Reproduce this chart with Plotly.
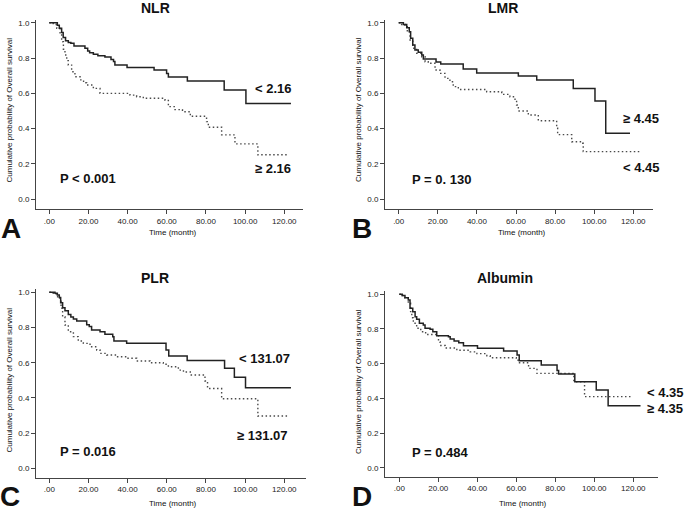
import plotly.graph_objects as go

W, H = 685, 511

# ---------------- data (time in months, cumulative survival) ----------------
nlr_low_t = [0, 4.1, 5.1, 6.3, 7.1, 8.3, 9.7, 11.0, 12.6, 18.2, 19.6, 20.6, 22.5, 24.8, 28.4, 31.5, 32.8, 33.5, 39.7, 53.5, 59.9, 60.8, 70.5, 89.3, 100.4, 123.4]
nlr_low_s = [1.0, 0.985, 0.968, 0.945, 0.916, 0.898, 0.888, 0.883, 0.868, 0.855, 0.84, 0.83, 0.821, 0.813, 0.806, 0.792, 0.78, 0.76, 0.747, 0.732, 0.713, 0.693, 0.67, 0.619, 0.543, 0.543]
nlr_high_t = [0, 2.0, 3.8, 5.5, 6.3, 7.2, 8.0, 8.9, 9.7, 11.4, 13.1, 15.7, 17.5, 19.1, 22.5, 25.9, 41.2, 44.6, 48.0, 59.1, 60.8, 64.2, 68.0, 72.0, 80.3, 81.2, 88.0, 94.8, 106.5, 122.2]
nlr_high_s = [1.0, 0.99, 0.968, 0.93, 0.892, 0.85, 0.817, 0.785, 0.76, 0.722, 0.694, 0.676, 0.66, 0.647, 0.628, 0.60, 0.59, 0.581, 0.572, 0.56, 0.525, 0.508, 0.496, 0.47, 0.44, 0.408, 0.365, 0.314, 0.252, 0.252]

lmr_high_t = [0, 2.4, 4.1, 5.4, 6.1, 7.2, 8.3, 10.0, 11.8, 12.6, 19.1, 21.5, 33.0, 39.9, 61.2, 70.6, 89.3, 100.4, 105.9, 118.3]
lmr_high_s = [1.0, 0.99, 0.972, 0.949, 0.912, 0.874, 0.845, 0.832, 0.817, 0.795, 0.777, 0.766, 0.738, 0.715, 0.698, 0.675, 0.628, 0.556, 0.374, 0.374]
lmr_low_t = [0, 1.5, 3.2, 4.4, 5.8, 7.2, 9.2, 11.8, 13.5, 15.1, 18.6, 21.1, 23.7, 26.2, 27.9, 30.5, 45.0, 52.7, 56.9, 59.5, 60.3, 61.2, 66.3, 71.4, 80.8, 81.3, 88.5, 93.6, 94.4, 123.6]
lmr_low_s = [1.0, 0.99, 0.977, 0.949, 0.902, 0.855, 0.827, 0.807, 0.779, 0.77, 0.732, 0.713, 0.685, 0.666, 0.638, 0.622, 0.609, 0.594, 0.581, 0.562, 0.534, 0.50, 0.477, 0.445, 0.402, 0.366, 0.326, 0.317, 0.27, 0.27]

plr_low_t = [0, 2.9, 4.1, 5.1, 5.8, 6.8, 8.0, 9.7, 11.0, 12.3, 14.0, 19.1, 20.4, 21.6, 25.9, 28.4, 32.4, 33.0, 39.5, 59.6, 61.0, 70.4, 89.5, 94.5, 100.2, 123.4]
plr_low_s = [1.0, 0.995, 0.985, 0.97, 0.94, 0.912, 0.895, 0.874, 0.86, 0.848, 0.837, 0.815, 0.805, 0.786, 0.776, 0.761, 0.748, 0.723, 0.71, 0.672, 0.638, 0.612, 0.568, 0.518, 0.458, 0.458]
plr_high_t = [0, 2.0, 3.8, 5.5, 6.0, 6.8, 8.0, 9.7, 12.3, 14.8, 17.4, 20.8, 24.2, 25.9, 29.3, 34.4, 39.5, 44.6, 51.4, 58.2, 60.8, 65.9, 68.5, 72.0, 79.5, 80.8, 88.0, 106.5, 122.2]
plr_high_s = [1.0, 0.99, 0.975, 0.95, 0.909, 0.861, 0.814, 0.776, 0.748, 0.723, 0.71, 0.691, 0.672, 0.653, 0.644, 0.634, 0.625, 0.61, 0.60, 0.591, 0.577, 0.558, 0.547, 0.53, 0.496, 0.453, 0.395, 0.297, 0.297]

alb_high_t = [0, 1.5, 2.9, 4.6, 5.5, 6.9, 8.1, 8.9, 10.3, 12.3, 13.2, 15.8, 17.2, 19.2, 25.2, 26.1, 28.1, 30.5, 32.9, 40.1, 53.5, 60.4, 61.5, 72.8, 80.9, 81.7, 90.0, 101.0, 107.1, 123.7]
alb_high_s = [1.0, 0.993, 0.98, 0.967, 0.919, 0.90, 0.871, 0.856, 0.833, 0.823, 0.804, 0.798, 0.784, 0.761, 0.755, 0.742, 0.731, 0.72, 0.704, 0.689, 0.673, 0.65, 0.617, 0.592, 0.56, 0.54, 0.496, 0.448, 0.357, 0.357]
alb_low_t = [0, 1.5, 2.9, 4.6, 5.8, 6.4, 7.2, 8.9, 11.0, 13.5, 20.1, 20.9, 23.5, 29.5, 36.4, 39.8, 44.9, 46.6, 60.0, 61.2, 66.3, 70.6, 89.5, 95.0, 118.6]
alb_low_s = [1.0, 0.993, 0.98, 0.948, 0.90, 0.865, 0.833, 0.804, 0.784, 0.768, 0.727, 0.705, 0.69, 0.677, 0.668, 0.658, 0.646, 0.634, 0.62, 0.605, 0.573, 0.544, 0.496, 0.41, 0.41]

x_tickvals = [0, 20, 40, 60, 80, 100, 120]
x_ticktext = [".00", "20.00", "40.00", "60.00", "80.00", "100.00", "120.00"]
y_tickvals = [0, 0.2, 0.4, 0.6, 0.8, 1.0]
y_ticktext = ["0.0", "0.2", "0.4", "0.6", "0.8", "1.0"]

panels = [
    dict(title="NLR", letter="A", p="P < 0.001",
         solid=(nlr_low_t, nlr_low_s), dotted=(nlr_high_t, nlr_high_s),
         labels=[("< 2.16", 273, 89), ("≥ 2.16", 273, 169)]),
    dict(title="LMR", letter="B", p="P = 0. 130",
         solid=(lmr_high_t, lmr_high_s), dotted=(lmr_low_t, lmr_low_s),
         labels=[("≥ 4.45", 641, 118), ("< 4.45", 641, 167)]),
    dict(title="PLR", letter="C", p="P = 0.016",
         solid=(plr_low_t, plr_low_s), dotted=(plr_high_t, plr_high_s),
         labels=[("< 131.07", 264, 358), ("≥ 131.07", 262, 435)]),
    dict(title="Albumin", letter="D", p="P = 0.484",
         solid=(alb_high_t, alb_high_s), dotted=(alb_low_t, alb_low_s),
         labels=[("< 4.35", 665, 392), ("≥ 4.35", 665, 408)]),
]

# ---------------- pixel geometry of each panel ----------------
# (axis-left px, axis-right px, x0 px, x120 px, axis-top px, axis-bottom px, y1 px, y0 px)
geom = [
    (36, 303, 49.3, 284.3, 19.5, 209.3, 22.7, 199.3),
    (385, 653, 398.7, 633.3, 19.5, 209.3, 22.7, 199.3),
    (36, 306, 49.3, 284.3, 288.5, 477.7, 292.3, 468.3),
    (385, 658, 399.3, 633.3, 290.5, 476.7, 294.3, 467.7),
]
text_pos = [
    dict(title=(155, 8), letter=(11, 229), p=(88, 178), xt=(173, 233), yt=(8.5, 110)),
    dict(title=(503, 8), letter=(362, 229), p=(441, 179), xt=(522, 233), yt=(358, 110)),
    dict(title=(155, 278), letter=(10, 496), p=(88, 451), xt=(173, 503), yt=(8.5, 380)),
    dict(title=(505, 278), letter=(362, 496), p=(440, 452), xt=(523, 503), yt=(358, 382)),
]

def px(x):
    return x / W

def py(y):
    return 1 - y / H

FONT = "Liberation Sans, Arial, sans-serif"
fig = go.Figure()
layout = dict(width=W, height=H, margin=dict(l=0, r=0, t=0, b=0),
              paper_bgcolor="white", plot_bgcolor="white", showlegend=False,
              font=dict(family=FONT, color="#222"))
annotations = []

for i, (pn, g, tp) in enumerate(zip(panels, geom, text_pos)):
    n = "" if i == 0 else str(i + 1)
    xl, xr, x0, x120, yt_, yb, y1, y0 = g
    sx = (x120 - x0) / 120.0
    sy = (y0 - y1) / 1.0
    xrange = [(xl - x0) / sx, (xr - x0) / sx]
    yrange = [(y0 - yb) / sy, (y0 - yt_) / sy]
    axis_common = dict(showgrid=False, zeroline=False, showline=True, linecolor="#444",
                       linewidth=1, ticks="outside", ticklen=4, tickcolor="#444",
                       tickfont=dict(size=8, color="#222", family=FONT))
    layout["xaxis" + n] = dict(domain=[px(xl), px(xr)], range=xrange, anchor="y" + n,
                               tickvals=x_tickvals, ticktext=x_ticktext, **axis_common)
    layout["yaxis" + n] = dict(domain=[py(yb), py(yt_)], range=yrange, anchor="x" + n,
                               tickvals=y_tickvals, ticktext=y_ticktext, **axis_common)
    fig.add_trace(go.Scatter(x=pn["dotted"][0], y=pn["dotted"][1], mode="lines",
                             line=dict(shape="hv", color="#4a4a4a", width=1.4, dash="1.5px,2.5px"),
                             xaxis="x" + n, yaxis="y" + n))
    fig.add_trace(go.Scatter(x=pn["solid"][0], y=pn["solid"][1], mode="lines",
                             line=dict(shape="hv", color="#222", width=1.5),
                             xaxis="x" + n, yaxis="y" + n))

    def ann(text, pos, size, bold=True, angle=0, xanchor="center"):
        annotations.append(dict(text=("<b>%s</b>" % text) if bold else text,
                                x=px(pos[0]), y=py(pos[1]), xref="paper", yref="paper",
                                showarrow=False, xanchor=xanchor, yanchor="middle",
                                textangle=angle,
                                font=dict(size=size, family=FONT, color="#111")))

    ann(pn["title"], tp["title"], 14)
    ann(pn["letter"], tp["letter"], 28)
    ann(pn["p"], tp["p"], 13)
    ann("Time (month)", tp["xt"], 8, bold=False)
    ann("Cumulative probability of Overall survival", tp["yt"], 8, bold=False, angle=-90)
    for txt, lx, ly in pn["labels"]:
        ann(txt, (lx, ly), 13)

layout["annotations"] = annotations
fig.update_layout(**layout)
fig.write_html("out.html", config={"displayModeBar": False},
               post_script="document.body.style.margin='0px';document.body.style.padding='0px';document.body.style.overflow='hidden';")
